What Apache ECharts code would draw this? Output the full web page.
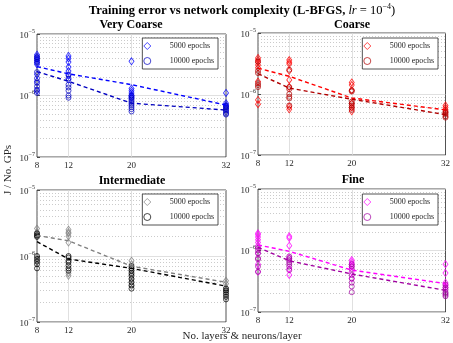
<!DOCTYPE html>
<html>
<head>
<meta charset="utf-8">
<title>Training error vs network complexity</title>
<script src="https://cdn.jsdelivr.net/npm/echarts@6/dist/echarts.min.js"></script>
</head>
<body style="margin:0;background:#fff">
<div id="main" style="width:453px;height:343px;"></div>
<script>
// x positions (layers & neurons/layer)
var xTicks = [8, 12, 20, 32];
var minorSteps = [2, 3, 4, 5, 6, 7, 8, 9];
var decades = [1e-7, 1e-6];

// Very Coarse
var vc5000 = [
  [4.6e-6, 4.3e-6, 4.0e-6, 3.7e-6, 3.4e-6, 3.2e-6, 2.2e-6, 1.7e-6, 1.2e-6],
  [4.4e-6, 4.0e-6, 3.5e-6, 2.9e-6, 2.5e-6, 2.1e-6, 1.8e-6],
  [3.6e-6, 1.3e-6, 1.2e-6, 1.1e-6, 1.0e-6, 0.95e-6, 0.9e-6],
  [1.1e-6, 7.5e-7, 7.0e-7, 6.6e-7, 6.2e-7]
];
var vc10000 = [
  [4.2e-6, 3.9e-6, 3.5e-6, 2.4e-6, 1.9e-6, 1.6e-6, 1.4e-6, 1.25e-6, 1.1e-6],
  [2.2e-6, 1.9e-6, 1.5e-6, 1.35e-6, 1.2e-6, 1.0e-6, 0.92e-6],
  [1.0e-6, 0.92e-6, 0.85e-6, 0.8e-6, 0.75e-6, 0.7e-6, 0.65e-6, 0.6e-6, 0.55e-6],
  [6.8e-7, 6.4e-7, 6.0e-7, 5.7e-7, 5.4e-7, 5.1e-7, 4.9e-7]
];
var vcLine5000 = [2.95e-6, 2.25e-6, 1.5e-6, 7.0e-7];
var vcLine10000 = [2.45e-6, 1.7e-6, 7.5e-7, 5.8e-7];

// Coarse
var co5000 = [
  [3.9e-6, 3.6e-6, 3.3e-6, 3.0e-6, 2.7e-6, 1.6e-6, 0.8e-6, 0.68e-6],
  [3.6e-6, 3.3e-6, 3.1e-6, 2.4e-6, 1.7e-6, 1.3e-6, 0.62e-6, 0.56e-6],
  [1.55e-6, 1.4e-6, 1.15e-6, 0.7e-6, 0.6e-6, 0.52e-6],
  [6.5e-7, 6.0e-7, 5.5e-7, 5.0e-7]
];
var co10000 = [
  [3.4e-6, 2.4e-6, 2.2e-6, 1.5e-6, 1.4e-6, 1.3e-6],
  [2.5e-6, 1.3e-6, 1.2e-6, 1.0e-6, 0.9e-6, 0.85e-6, 0.65e-6],
  [1.15e-6, 1.1e-6, 0.75e-6, 0.7e-6, 0.65e-6, 0.6e-6, 0.55e-6],
  [5.2e-7, 4.9e-7, 4.6e-7, 4.3e-7, 4.1e-7]
];
var coLine5000 = [2.65e-6, 1.95e-6, 8.6e-7, 5.5e-7];
var coLine10000 = [2.15e-6, 1.25e-6, 8.2e-7, 4.6e-7];

// Intermediate
var in5000 = [
  [2.6e-6, 2.3e-6, 2.2e-6, 2.1e-6, 2.0e-6, 0.95e-6, 0.85e-6],
  [2.5e-6, 2.3e-6, 2.2e-6, 2.0e-6, 1.6e-6, 0.55e-6, 0.5e-6],
  [8.5e-7, 7.5e-7, 6.5e-7, 6.0e-7, 5.2e-7, 4.5e-7, 4.0e-7, 3.5e-7],
  [4.2e-7, 3.8e-7, 3.3e-7, 3.0e-7]
];
var in10000 = [
  [2.2e-6, 2.05e-6, 1.95e-6, 1.0e-6, 0.9e-6, 0.82e-6, 0.75e-6, 0.65e-6],
  [1.0e-6, 0.95e-6, 0.85e-6, 0.8e-6, 0.72e-6, 0.65e-6, 0.6e-6],
  [7.0e-7, 6.5e-7, 6.0e-7, 5.5e-7, 5.0e-7, 4.5e-7, 4.0e-7, 3.6e-7, 3.2e-7],
  [3.2e-7, 3.0e-7, 2.8e-7, 2.6e-7, 2.4e-7, 2.2e-7]
];
var inLine5000 = [2.05e-6, 1.7e-6, 7.0e-7, 4.0e-7];
var inLine10000 = [1.65e-6, 9.0e-7, 6.5e-7, 3.5e-7];

// Fine
var fi5000 = [
  [1.9e-6, 1.8e-6, 1.65e-6, 1.5e-6, 1.35e-6, 1.2e-6, 0.9e-6, 0.6e-6, 0.45e-6],
  [1.7e-6, 1.6e-6, 1.2e-6, 0.75e-6, 0.5e-6, 0.4e-6],
  [7.0e-7, 6.5e-7, 6.0e-7, 5.5e-7, 4.5e-7, 3.5e-7],
  [6.0e-7, 4.3e-7, 3.0e-7, 2.7e-7, 2.5e-7]
];
var fi10000 = [
  [1.1e-6, 1.0e-6, 0.9e-6, 0.75e-6, 0.72e-6, 0.55e-6, 0.45e-6],
  [0.8e-6, 0.75e-6, 0.7e-6, 0.65e-6, 0.6e-6, 0.55e-6, 0.48e-6],
  [6.0e-7, 5.5e-7, 5.0e-7, 4.0e-7, 3.5e-7, 3.0e-7, 2.6e-7, 2.1e-7],
  [2.8e-7, 2.5e-7, 2.3e-7, 2.1e-7, 2.0e-7, 1.9e-7, 1.8e-7]
];
var fiLine5000 = [1.23e-6, 9.7e-7, 4.8e-7, 2.9e-7];
var fiLine10000 = [1.13e-6, 6.8e-7, 4.15e-7, 2.25e-7];

var FONT = 'Liberation Serif';
var INK = '#262626';

var panels = [
  {id: 'vc', title: 'Very Coarse', box: [37, 34, 189, 123], leg: [235, 38], tpos: [131, 25],
   s5: vc5000, s10: vc10000, l5: vcLine5000, l10: vcLine10000, c5: '#0000ff', c10: '#0000c0'},
  {id: 'co', title: 'Coarse', box: [258, 33, 189, 122], leg: [15, 38], tpos: [352, 25],
   s5: co5000, s10: co10000, l5: coLine5000, l10: coLine10000, c5: '#ff0000', c10: '#b00000'},
  {id: 'in', title: 'Intermediate', box: [37, 190, 189, 132], leg: [235, 194], tpos: [132, 181],
   s5: in5000, s10: in10000, l5: inLine5000, l10: inLine10000, c5: '#808080', c10: '#000000'},
  {id: 'fi', title: 'Fine', box: [258, 189, 189, 123], leg: [15, 194], tpos: [353, 180],
   s5: fi5000, s10: fi10000, l5: fiLine5000, l10: fiLine10000, c5: '#ff00ff', c10: '#a000a0'}
];

var legendNames = {};

function toPoints(cols) {
  var out = [];
  cols.forEach(function (vals, i) {
    vals.forEach(function (v) { out.push([xTicks[i], v]); });
  });
  return out;
}

// minor (dotted) horizontal grid lines at 2..9 x each decade
var minorGrid = [];
decades.forEach(function (d) {
  minorSteps.forEach(function (m) {
    minorGrid.push({coords: [[xTicks[0], m * d], [xTicks[xTicks.length - 1], m * d]]});
  });
});
// vertical grid lines at inner x ticks
var vertGrid = xTicks.slice(1, -1).map(function (x) {
  return {coords: [[x, 1e-7], [x, 1e-5]]};
});

var grids = [], xAxes = [], yAxes = [], legends = [], series = [], graphics = [];

panels.forEach(function (p, i) {
  grids.push({left: p.box[0], top: p.box[1], width: p.box[2], height: p.box[3],
    show: true, borderColor: INK, borderWidth: 0.8, backgroundColor: '#fff'});
  xAxes.push({
    type: 'value', gridIndex: i, min: 8, max: 32, interval: 4,
    axisLine: {show: false}, axisTick: {show: false}, splitLine: {show: false},
    axisLabel: {
      customValues: xTicks, margin: 4, fontFamily: FONT, fontSize: 9, color: INK,
      formatter: function (v) { return xTicks.indexOf(v) >= 0 ? String(v) : ''; }
    }
  });
  yAxes.push({
    type: 'log', logBase: 10, gridIndex: i, min: 1e-7, max: 1e-5,
    axisLine: {show: false},
    axisTick: {show: true, inside: true, length: 3, lineStyle: {color: INK, width: 0.8}},
    splitLine: {show: true, lineStyle: {color: '#d8d8d8', width: 0.8}},
    axisLabel: {
      margin: 2, color: INK,
      formatter: function (v) {
        var e = Math.round(Math.log(v) / Math.LN10);
        return '{b|10}{s|\u2212' + Math.abs(e) + '}';
      },
      rich: {
        b: {fontFamily: FONT, fontSize: 9, color: INK, lineHeight: 12, verticalAlign: 'bottom'},
        s: {fontFamily: FONT, fontSize: 6, color: INK, lineHeight: 6, verticalAlign: 'top'}
      }
    }
  });

  series.push({
    type: 'lines', coordinateSystem: 'cartesian2d', xAxisIndex: i, yAxisIndex: i,
    silent: true, z: 1, polyline: false,
    lineStyle: {color: '#b4b4b4', width: 0.7, type: [1, 2], opacity: 1},
    data: minorGrid
  });
  series.push({
    type: 'lines', coordinateSystem: 'cartesian2d', xAxisIndex: i, yAxisIndex: i,
    silent: true, z: 1,
    lineStyle: {color: '#d8d8d8', width: 0.8, type: 'solid', opacity: 1},
    data: vertGrid
  });

  var n5 = p.id + '5000', n10 = p.id + '10000';
  legendNames[n5] = '5000 epochs';
  legendNames[n10] = '10000 epochs';

  series.push({
    name: n5, type: 'scatter', xAxisIndex: i, yAxisIndex: i, z: 3,
    symbol: 'diamond', symbolSize: [5, 7],
    itemStyle: {color: 'rgba(0,0,0,0)', borderColor: p.c5, borderWidth: 0.9},
    data: toPoints(p.s5)
  });
  series.push({
    name: n10, type: 'scatter', xAxisIndex: i, yAxisIndex: i, z: 3,
    symbol: 'circle', symbolSize: 5,
    itemStyle: {color: 'rgba(0,0,0,0)', borderColor: p.c10, borderWidth: 0.9},
    data: toPoints(p.s10)
  });
  series.push({
    type: 'line', xAxisIndex: i, yAxisIndex: i, z: 4, symbol: 'none', silent: true,
    lineStyle: {color: p.c5, width: 1.4, type: [4, 3]},
    data: xTicks.map(function (x, k) { return [x, p.l5[k]]; })
  });
  series.push({
    type: 'line', xAxisIndex: i, yAxisIndex: i, z: 4, symbol: 'none', silent: true,
    lineStyle: {color: p.c10, width: 1.4, type: [4, 3]},
    data: xTicks.map(function (x, k) { return [x, p.l10[k]]; })
  });

  legends.push({
    right: p.leg[0], top: p.leg[1], orient: 'vertical',
    backgroundColor: '#fff', borderColor: INK, borderWidth: 0.8, borderRadius: 0,
    padding: [2, 4, 2, 1], itemGap: 3, itemWidth: 7, itemHeight: 7,
    selectedMode: false,
    itemStyle: {borderWidth: 0.9},
    data: [{name: n5, icon: 'diamond'}, {name: n10, icon: 'circle'}],
    formatter: function (name) { return '{g|}{t|' + legendNames[name] + '}'; },
    textStyle: {
      rich: {
        g: {width: 14},
        t: {fontFamily: FONT, fontSize: 8, color: INK}
      }
    }
  });

  graphics.push({
    type: 'text', x: p.tpos[0], y: p.tpos[1],
    style: {text: p.title, font: 'bold 12px "' + FONT + '"', fill: '#000', align: 'center', verticalAlign: 'middle'}
  });
});

graphics.push({
  type: 'text', x: 242, y: 10,
  style: {
    text: '{b|Training error vs network complexity (L-BFGS, }{i|lr}{r| = 10}{s|\u22124}{r|)}',
    align: 'center', verticalAlign: 'middle',
    rich: {
      b: {font: 'bold 12.5px "' + FONT + '"', fill: '#000', lineHeight: 15, verticalAlign: 'bottom'},
      i: {font: 'italic 12.5px "' + FONT + '"', fill: '#000', lineHeight: 15, verticalAlign: 'bottom'},
      r: {font: '12.5px "' + FONT + '"', fill: '#000', lineHeight: 15, verticalAlign: 'bottom'},
      s: {font: '8px "' + FONT + '"', fill: '#000', lineHeight: 8, verticalAlign: 'top'}
    }
  }
});
graphics.push({
  type: 'text', x: 8, y: 170, rotation: Math.PI / 2,
  style: {text: 'J / No. GPs', font: '11px "' + FONT + '"', fill: INK, align: 'center', verticalAlign: 'middle'}
});
graphics.push({
  type: 'text', x: 242, y: 336,
  style: {text: 'No. layers & neurons/layer', font: '11px "' + FONT + '"', fill: INK, align: 'center', verticalAlign: 'middle'}
});

var chart = echarts.init(document.getElementById('main'));
chart.setOption({
  animation: false,
  backgroundColor: '#fff',
  grid: grids,
  xAxis: xAxes,
  yAxis: yAxes,
  legend: legends,
  series: series,
  graphic: graphics
});
</script>
</body>
</html>
